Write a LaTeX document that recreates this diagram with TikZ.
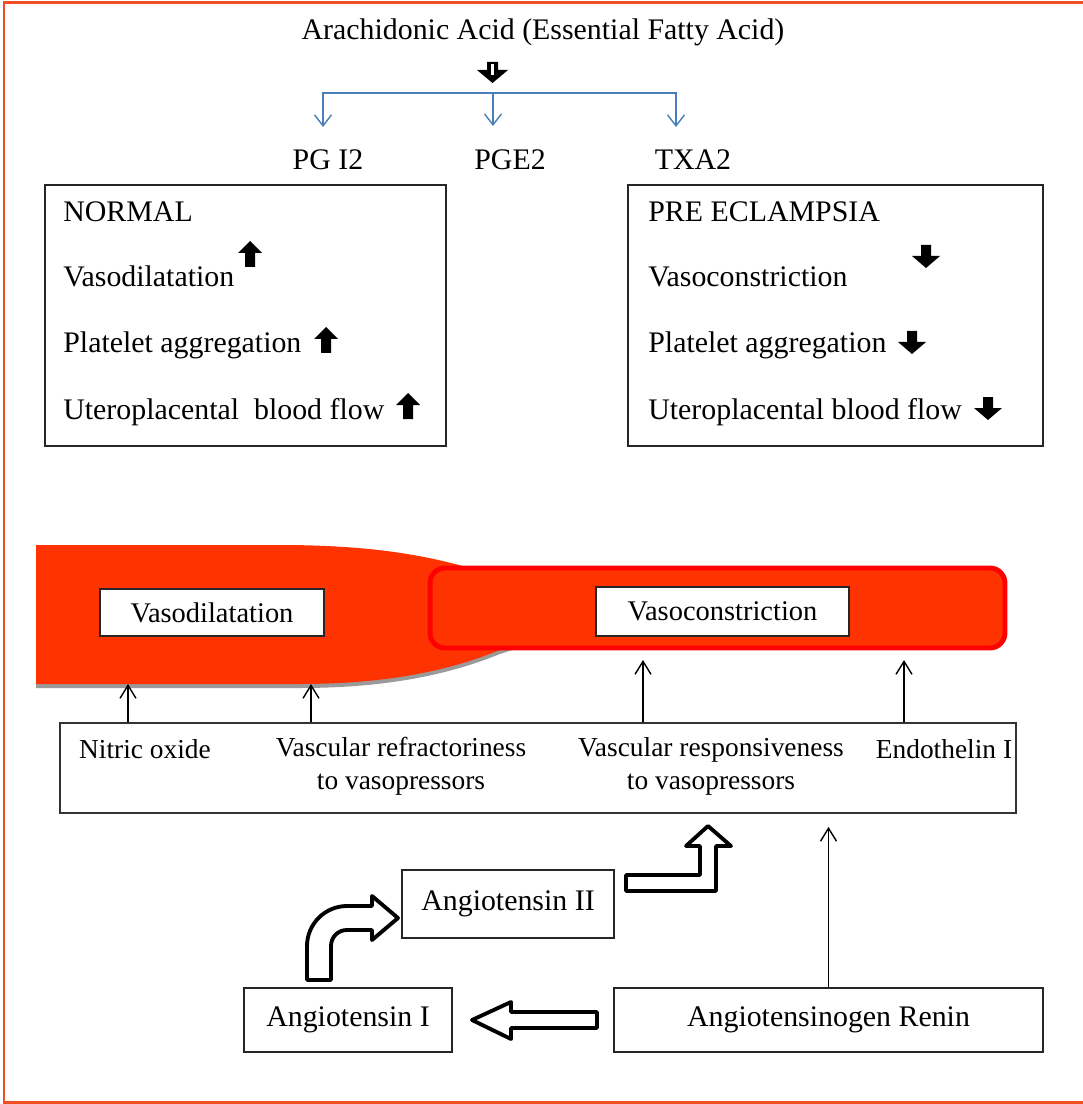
\documentclass[tikz,border=0pt]{standalone}
\usepackage{fontspec}
\setmainfont{Liberation Serif}
\usetikzlibrary{arrows.meta,calc}
\definecolor{frameOrange}{HTML}{F04E23}
\definecolor{vesselRed}{HTML}{FF3300}
\definecolor{vesselEdge}{HTML}{FF0000}
\definecolor{pathBlue}{HTML}{4A7EBB}
\definecolor{shadowGrey}{HTML}{9A9A9A}

\tikzset{
  upmark/.pic={\fill (0,-13) -- (12,-1) -- (5,-1) -- (5,13) -- (-5,13) -- (-5,-1) -- (-12,-1) -- cycle;},
  downmark/.pic={\fill (0,12) -- (14,0) -- (5,0) -- (5,-11) -- (-5,-11) -- (-5,0) -- (-14,0) -- cycle;}
}

\begin{document}
\begin{tikzpicture}[x=0.02cm,y=-0.02cm, every node/.style={font=\fontsize{17}{20}\selectfont, inner sep=0pt},
  box/.style={draw=black!85, line width=0.8pt, fill=white},
  thinarrow/.style={-{Straight Barb[length=0.26cm,width=0.32cm]}, line width=0.8pt},
  bluearrow/.style={-{Straight Barb[length=0.22cm,width=0.34cm]}, line width=0.8pt, pathBlue},
  hollowarrow/.style={draw=black, fill=white, line width=2.2pt, line join=round},
  factortext/.style={font=\fontsize{15.6}{18.8}\selectfont, align=center}]
      \useasboundingbox (0,0) rectangle (1082,1104);
      \draw[frameOrange, line width=1.7pt] (1090,3) -- (4,3) -- (4,1102) -- (1090,1102);

      % top: arachidonic acid
      \node (acid) at (543,32) {Arachidonic Acid (Essential Fatty Acid)};
      \fill (487,62) -- (498,62) -- (498,70) -- (508,70) -- (492.5,83) -- (477,70) -- (487,70) -- cycle;
      \fill[white] (491.3,64) rectangle (493.7,75);
      \coordinate (split) at (493,93);
      \coordinate (toPGI) at (323,127);
      \coordinate (toPGE) at (493,126);
      \coordinate (toTXA) at (676,127);
      \draw[bluearrow] (split) -| (toPGI);
      \draw[bluearrow] (split) -- (toPGE);
      \draw[bluearrow] (split) -| (toTXA);
      \node (pgi) at (328,160) {PG I2};
      \node (pge) at (510,160) {PGE2};
      \node (txa) at (693,160) {TXA2};

      % normal vs pre eclampsia
      \node[box, minimum width=8.02cm, minimum height=5.22cm] (normal) at (245.5,315.5) {};
      \node[anchor=base west] (nHead) at (63,222) {NORMAL};
      \node[anchor=base west] (nVaso) at (63,287) {Vasodilatation};
      \node[anchor=base west] (nPlat) at (63,353) {Platelet aggregation};
      \node[anchor=base west] (nFlow) at (63,419) {Uteroplacental~ blood flow};
      \pic at (250,254) {upmark};
      \pic at (326,340) {upmark};
      \pic at (408,406) {upmark};

      \node[box, minimum width=8.3cm, minimum height=5.22cm] (pree) at (835.5,315.5) {};
      \node[anchor=base west] (pHead) at (648,222) {PRE ECLAMPSIA};
      \node[anchor=base west] (pVaso) at (648,287) {Vasoconstriction};
      \node[anchor=base west] (pPlat) at (648,353) {Platelet aggregation};
      \node[anchor=base west] (pFlow) at (648,419) {Uteroplacental blood flow};
      \pic at (926,256) {downmark};
      \pic at (912,342) {downmark};
      \pic at (988,408) {downmark};

      % vessel band
      \fill[shadowGrey, yshift=-0.08cm] (36,545) -- (290,545) .. controls (370,546) and (420,554) .. (470,568) -- (530,590) -- (530,640) -- (500,650) .. controls (460,666) and (400,684) .. (300,684) -- (36,684) -- cycle;
      \fill[vesselRed] (36,545) -- (290,545) .. controls (370,546) and (420,554) .. (470,568) -- (530,590) -- (530,640) -- (500,650) .. controls (460,666) and (400,684) .. (300,684) -- (36,684) -- cycle;
      \node[draw=vesselEdge, fill=vesselRed, line width=2.8pt, rounded corners=0.3cm, minimum width=11.5cm, minimum height=1.6cm] (vcbar) at (717.5,608) {};
      \node[box, font=\fontsize{16.2}{19}\selectfont, minimum width=4.48cm, minimum height=0.94cm] (vasodil) at (212,612.5) {Vasodilatation};
      \node[box, font=\fontsize{16.2}{19}\selectfont, minimum width=5.06cm, minimum height=0.98cm] (vasocon) at (722.5,611.5) {Vasoconstriction};

      % factors
      \node[draw=black!80, line width=1pt, minimum width=19.12cm, minimum height=1.8cm] (factors) at (538,768) {};
      \node[factortext] (nitric) at (145,749) {Nitric oxide};
      \node[factortext] (refract) at (401,766) {Vascular refractoriness\\to vasopressors};
      \node[factortext] (respons) at (711,766) {Vascular responsiveness\\to vasopressors};
      \node[factortext] (endo) at (944,749) {Endothelin I};
      \coordinate (t1) at (128,684);
      \coordinate (t2) at (311,684);
      \coordinate (t3) at (643,660);
      \coordinate (t4) at (904,660);
      \draw[thinarrow] (t1 |- factors.north) -- (t1);
      \draw[thinarrow] (t2 |- factors.north) -- (t2);
      \draw[thinarrow] (t3 |- factors.north) -- (t3);
      \draw[thinarrow] (t4 |- factors.north) -- (t4);

      % renin-angiotensin
      \node[box, minimum width=4.24cm, minimum height=1.36cm] (ang2) at (508,904) {Angiotensin II};
      \node[box, minimum width=4.16cm, minimum height=1.28cm] (ang1) at (348,1020) {Angiotensin I};
      \node[box, minimum width=8.58cm, minimum height=1.28cm] (renin) at (828.5,1020) {Angiotensinogen Renin};
      \draw[thinarrow] (renin.north) -- ($(renin.north |- factors.south)+(0,13)$);
      \draw[hollowarrow] (597,1012) -- (511,1012) -- (511,1002) -- (472,1020) -- (511,1039) -- (511,1028) -- (597,1028) -- cycle;
      \draw[hollowarrow] (307,980) -- (307,946) .. controls (307,924) and (325,906) .. (347,906) -- (372,906) -- (372,896) -- (398,918) -- (372,940) -- (372,930) -- (347,930) .. controls (338,930) and (331,937) .. (331,946) -- (331,980) -- cycle;
      \draw[hollowarrow] (626,875) -- (700,875) -- (700,846) -- (686,846) -- (708,826) -- (731,846) -- (716,846) -- (716,891) -- (626,891) -- cycle;
    \end{tikzpicture}
\end{document}
